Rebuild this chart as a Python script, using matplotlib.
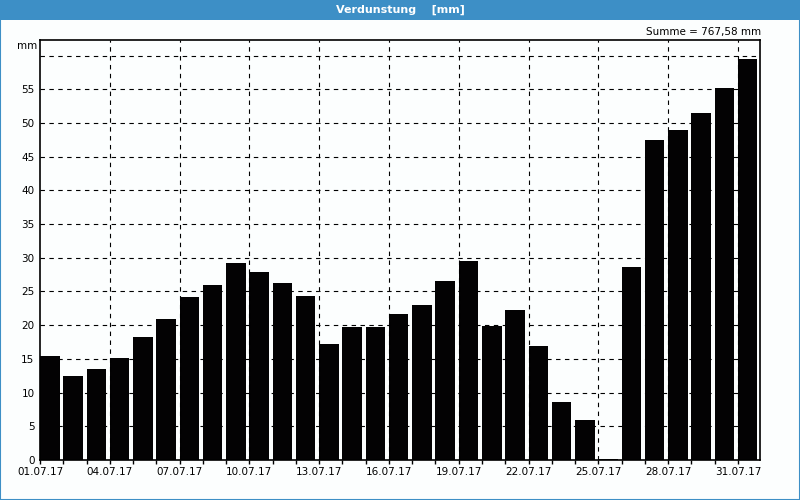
import pandas
import matplotlib
matplotlib.use("Agg")
import matplotlib.pyplot as plt
from matplotlib.patches import Rectangle

# Tage im Juli 2017
tage = pandas.date_range("2017-07-01", "2017-07-31", freq="D")
tage_labels = [d.strftime("%d.%m.%y") for d in tage]

# Verdunstung pro Tag [mm]
verdunstung = [15.4, 12.5, 13.5, 15.1, 18.2, 20.9, 24.2, 26.0, 29.2, 27.9,
               26.3, 24.3, 17.2, 19.7, 19.7, 21.7, 23.0, 26.6, 29.5, 19.9,
               22.3, 16.9, 8.6, 5.9, 0.2, 28.6, 47.4, 48.9, 51.5, 55.2, 59.5]

y_ticks = [0, 5, 10, 15, 20, 25, 30, 35, 40, 45, 50, 55]
summe_text = "Summe = 767,58 mm"
titel = "Verdunstung    [mm]"

plt.rcParams['font.family'] = ['DejaVu Sans']

fig = plt.figure(figsize=(8, 5), dpi=100)
fig.patch.set_facecolor("#fcfefe")

# Titelleiste und Rahmen
fig.patches.append(Rectangle((0, 0.96), 1, 0.04, transform=fig.transFigure,
                             facecolor="#3d8fc6", edgecolor="none"))
fig.patches.append(Rectangle((0.0006, 0.001), 0.9988, 0.998, transform=fig.transFigure,
                             facecolor="none", edgecolor="#3d8fc6", linewidth=1.5))
fig.text(0.5, 0.981, titel, color="white", fontsize=8, fontweight="bold",
         ha="center", va="center")

ax = fig.add_axes([0.05, 0.08, 0.90, 0.84])
ax.set_facecolor("#fcfefe")

x = list(range(len(verdunstung)))
ax.bar(x, verdunstung, width=0.84, align="edge", color="#030203", zorder=3)

ax.set_xlim(0, 30.95)
ax.set_ylim(0, 62.3)

# Gitter
for v in range(5, 61, 5):
    ax.axhline(v, color="black", linewidth=0.8, linestyle=(0, (4, 4)), zorder=1)
for i in range(3, 31, 3):
    ax.axvline(i, color="black", linewidth=0.8, linestyle=(0, (4, 4)), zorder=4)

ax.set_yticks(y_ticks)
ax.set_yticklabels([str(v) for v in y_ticks], fontsize=7.5)
ax.tick_params(axis="y", length=0, pad=4)

ax.set_xticks(x[::3])
ax.set_xticklabels(tage_labels[::3], fontsize=7.5)
ax.set_xticks(x, minor=True)
ax.tick_params(axis="x", which="both", length=3, width=1, direction="out", pad=2)

for s in ax.spines.values():
    s.set_linewidth(1.2)
    s.set_zorder(5)

fig.text(0.046, 0.908, "mm", fontsize=7.5, ha="right", va="center")
fig.text(0.952, 0.935, summe_text, fontsize=7.5, ha="right", va="center")

fig.savefig("out.png", dpi=100, facecolor=fig.get_facecolor())
